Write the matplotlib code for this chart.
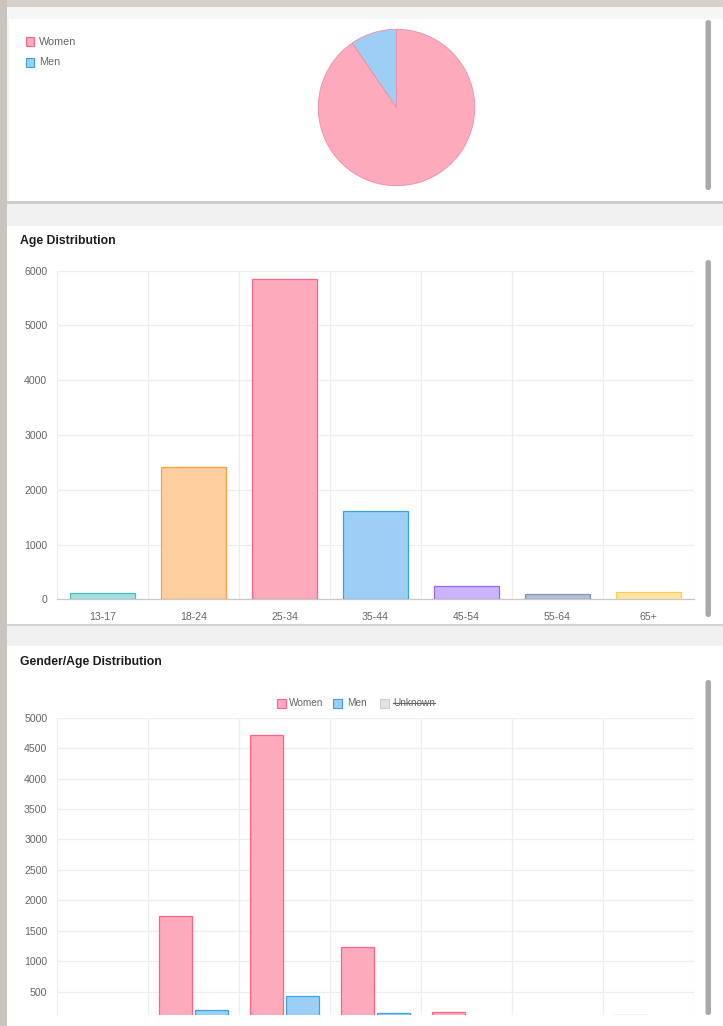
import matplotlib
matplotlib.use("Agg")
import matplotlib.pyplot as plt
from matplotlib.patches import Rectangle, FancyBboxPatch
import numpy as np

# ---------------- data ----------------
age_groups = ["13-17", "18-24", "25-34", "35-44", "45-54", "55-64", "65+"]
age_totals = [115, 2420, 5848, 1612, 238, 88, 132]
women_by_age = [95, 1747, 4710, 1233, 171, 60, 112]
men_by_age = [5, 205, 430, 150, 45, 15, 10]
gender_labels = ["Women", "Men"]
legend3_labels = ["Women", "Men", "Unknown"]
pie_values = [sum(women_by_age), sum(men_by_age)]
age_ticks = [0, 1000, 2000, 3000, 4000, 5000, 6000]
gender_age_ticks = [500, 1000, 1500, 2000, 2500, 3000, 3500, 4000, 4500, 5000]

# ---------------- styles ----------------
age_fill = ["#a5dfdf", "#ffcf9f", "#fdaabd", "#9ccff3", "#ccb4fd", "#b3bfd2", "#ffe4a6"]
age_edge = ["#4bc0c0", "#ff9f40", "#ff6384", "#36a2eb", "#9966ff", "#8497b0", "#ffcd56"]
pink_fill, pink_edge = "#fdaabd", "#ff6384"
blue_fill, blue_edge = "#9ccff3", "#36a2eb"
grey_fill = "#e3e3e3"
tick_col = "#666666"
grid_col = "#ededed"
FONT = "Liberation Sans"
plt.rcParams["font.family"] = [FONT, "DejaVu Sans"]

W, H = 723, 1026
fig = plt.figure(figsize=(W / 100, H / 100), dpi=100)
fig.patch.set_facecolor("#d6d2cb")


def rect(x0, y0, x1, y1):
    return [x0 / W, 1 - y1 / H, (x1 - x0) / W, (y1 - y0) / H]


# background (page) in pixel coordinates
bg = fig.add_axes([0, 0, 1, 1], zorder=-10)
bg.set_xlim(0, W)
bg.set_ylim(H, 0)
bg.axis("off")


def box(x0, y0, x1, y1, color, **kw):
    bg.add_patch(Rectangle((x0, y0), x1 - x0, y1 - y0, facecolor=color, edgecolor="none", **kw))


box(7, 7, W, H, "#f4f4f4")
box(7, 7, W, 19, "#f6f6f6")
box(9, 19, W, 201, "white")
box(7, 201, W, 203.5, "#cdcdcd")
box(7, 203.5, W, 226, "#f1f1f1")
box(7, 226, W, 624, "white")
box(7, 624, W, 626, "#d3d3d3")
box(7, 626, W, 646, "#f1f1f1")
box(7, 646, W, H, "white")
box(0, 0, 7, H, "#c9c5be")

for y0, y1 in [(20, 190), (260, 617), (680, 1015)]:
    bg.add_patch(FancyBboxPatch((705.5, y0), 5.5, y1 - y0,
                                boxstyle="round,pad=0,rounding_size=2.7",
                                facecolor="#a9a9a9", edgecolor="none"))

# ---------------- panel 1: pie ----------------
bg.add_patch(Rectangle((26, 37), 8, 9, facecolor=pink_fill, edgecolor=pink_edge, lw=0.8))
bg.add_patch(Rectangle((26, 57.5), 8, 9, facecolor=blue_fill, edgecolor=blue_edge, lw=0.8))
bg.text(39, 42, gender_labels[0], fontsize=7.8, color=tick_col, va="center", ha="left")
bg.text(39, 62, gender_labels[1], fontsize=7.8, color=tick_col, va="center", ha="left")

axp = fig.add_axes(rect(317.5, 28.5, 475.5, 186.5))
axp.pie(pie_values, colors=[pink_fill, blue_fill], startangle=90, counterclock=False,
        radius=1, wedgeprops=dict(edgecolor="#f48ba3", linewidth=0.6))
axp.set_xlim(-1.01, 1.01)
axp.set_ylim(-1.01, 1.01)
axp.set_aspect("equal")
axp.axis("off")

# ---------------- panel 2: age distribution ----------------
bg.text(20, 241, "Age Distribution", fontsize=8.8, fontweight="bold", color="#1d1d1d",
        va="center", ha="left")

x = np.arange(len(age_groups))
ax2 = fig.add_axes(rect(57, 270.7, 694, 599.3))
ax2.set_facecolor("none")
ax2.bar(x, age_totals, width=0.72, color=age_fill, edgecolor=age_edge, linewidth=0.9, zorder=3)
ax2.set_xlim(-0.5, len(age_groups) - 0.5)
ax2.set_ylim(0, 6000)
ax2.set_yticks(age_ticks)
ax2.set_xticks(x)
ax2.set_xticklabels(age_groups)
ax2.set_xticks(np.arange(-0.5, len(age_groups), 1), minor=True)
ax2.tick_params(axis="both", which="both", length=0, labelsize=7.6, labelcolor=tick_col)
ax2.tick_params(axis="x", pad=9)
ax2.tick_params(axis="y", pad=7)
ax2.grid(axis="y", which="major", color=grid_col, lw=0.9, zorder=0)
ax2.grid(axis="x", which="minor", color=grid_col, lw=0.9, zorder=0)
for s in ["top", "right", "left"]:
    ax2.spines[s].set_visible(False)
ax2.spines["bottom"].set_color("#c8c8c8")
ax2.spines["bottom"].set_linewidth(0.9)

# ---------------- panel 3: gender/age distribution ----------------
bg.text(20, 662, "Gender/Age Distribution", fontsize=8.8, fontweight="bold", color="#1d1d1d",
        va="center", ha="left")

zero_px, top_px, clip_px = 1022.1, 717.7, 1015.0
ymin = (zero_px - clip_px) / ((zero_px - top_px) / 5000)
ax3 = fig.add_axes(rect(57, top_px, 694, clip_px))
ax3.set_facecolor("none")
ax3.bar(x - 0.2, women_by_age, width=0.36, color=pink_fill, edgecolor=pink_edge, linewidth=0.9, zorder=3)
ax3.bar(x + 0.2, men_by_age, width=0.36, color=blue_fill, edgecolor=blue_edge, linewidth=0.9, zorder=3)
ax3.set_xlim(-0.5, len(age_groups) - 0.5)
ax3.set_ylim(ymin, 5000)
ax3.set_yticks(gender_age_ticks)
ax3.set_xticks([])
ax3.set_xticks(np.arange(-0.5, len(age_groups), 1), minor=True)
ax3.tick_params(axis="both", which="both", length=0, labelsize=7.6, labelcolor=tick_col)
ax3.tick_params(axis="y", pad=7)
ax3.grid(axis="y", which="major", color=grid_col, lw=0.9, zorder=0)
ax3.grid(axis="x", which="minor", color=grid_col, lw=0.9, zorder=0)
for s in ["top", "right", "left", "bottom"]:
    ax3.spines[s].set_visible(False)

# legend of panel 3
leg_boxes = [(277, pink_fill, pink_edge), (333, blue_fill, blue_edge), (380, grey_fill, "#cfcfcf")]
leg_text_x = [289, 347, 393]
texts = []
for (bx, fc, ec), tx, lab in zip(leg_boxes, leg_text_x, legend3_labels):
    bg.add_patch(Rectangle((bx, 698.5), 8.5, 9, facecolor=fc, edgecolor=ec, lw=0.8))
    texts.append(bg.text(tx, 703, lab, fontsize=7.2, color=tick_col, va="center", ha="left"))

fig.canvas.draw()
r = fig.canvas.get_renderer()
bb = texts[2].get_window_extent(r)
inv = bg.transData.inverted()
(x0, y0), (x1, y1) = inv.transform([(bb.x0, bb.y0), (bb.x1, bb.y1)])
bg.plot([x0, x1], [(y0 + y1) / 2, (y0 + y1) / 2], color=tick_col, lw=0.8)

fig.savefig("out.png", dpi=100, facecolor=fig.get_facecolor())
